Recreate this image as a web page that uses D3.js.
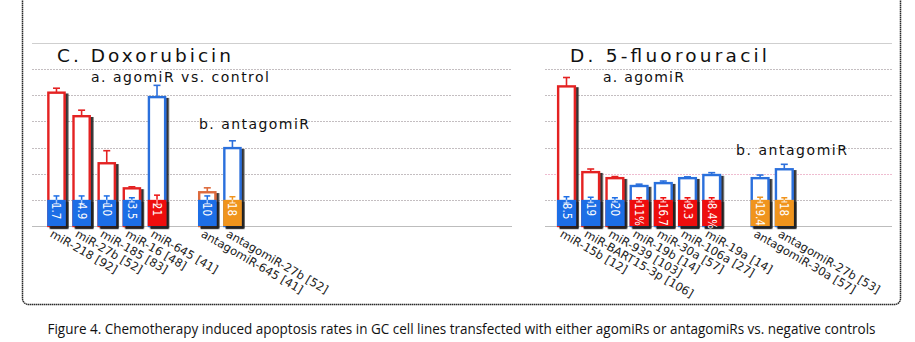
<!DOCTYPE html>
<html>
<head>
<meta charset="utf-8">
<script src="https://cdn.jsdelivr.net/npm/d3@7"></script>
<style>
  html, body { margin: 0; padding: 0; background: #fff; }
  svg { display: block; }
</style>
</head>
<body>
<svg id="chart" width="915" height="342"></svg>
<script>
// ---- Doxorubicin panel ----
const doxCategories = ["miR-218 [92]", "miR-27b [52]", "miR-185 [83]", "miR-16 [48]", "miR-645 [41]",
                       "antagomiR-645 [41]", "antagomiR-27b [52]"];
const doxGroups = ["agomiR", "agomiR", "agomiR", "agomiR", "agomiR", "antagomiR", "antagomiR"];
const doxTreated = [51, 42, 24, 14.4, 49.3, 12.9, 29.8];
const doxTreatedErr = [1.7, 2.3, 4.8, 0.6, 4.5, 1.7, 2.8];
const doxControl = [10, 10, 10, 10, 10, 10, 10];
const doxControlErr = [1.5, 1.5, 1.5, 0.8, 1.8, 1.5, 1.2];
const doxScheme = ["up", "up", "up", "up", "down", "antiUp", "antiDown"];
const doxBarLabels = ["1.7", "4.9", "10", "3.5", "21", "10", "18"];

// ---- 5-fluorouracil panel ----
const fuCategories = ["miR-15b [12]", "miR-BART15-3p [106]", "miR-939 [103]", "miR-19b [14]", "miR-30a [57]",
                      "miR-106a [27]", "miR-19a [14]", "antagomiR-30a [57]", "antagomiR-27b [53]"];
const fuGroups = ["agomiR", "agomiR", "agomiR", "agomiR", "agomiR", "agomiR", "agomiR", "antagomiR", "antagomiR"];
const fuTreated = [53.4, 20.6, 18.3, 15.3, 16.4, 18.3, 19.5, 18.3, 21.7];
const fuTreatedErr = [3.4, 1.2, 0.6, 0.7, 0.8, 0.5, 0.9, 1.2, 1.9];
const fuControl = [10, 10, 10, 10, 10, 10, 10, 10, 10];
const fuControlErr = [1.2, 1.0, 0.8, 0.8, 0.8, 0.8, 0.8, 1.0, 0.8];
const fuScheme = ["up", "up", "up", "down", "down", "down", "down", "antiDown", "antiDown"];
const fuBarLabels = ["8.5", "19", "20", "11%", "16.7", "9.3", "8.4%", "19.4", "18"];

const gridTicks = [0, 10, 20, 30, 40, 50, 60, 70];

const caption = "Figure 4. Chemotherapy induced apoptosis rates in GC cell lines transfected with either agomiRs or antagomiRs vs. negative controls";

// colour schemes: outline of treated bar / fill of control segment
const schemes = {
  up:       { outline: "#e42222", fill: "#1e6ee6" },
  down:     { outline: "#2c6fdc", fill: "#ee1010" },
  antiUp:   { outline: "#dd6a3c", fill: "#1e6ee6" },
  antiDown: { outline: "#2c6fdc", fill: "#f0941e" }
};

const svg = d3.select("#chart");
const comic = "'DejaVu Sans', Verdana, sans-serif";

// drop shadow used by all bars
const defs = svg.append("defs");
const f = defs.append("filter").attr("id", "shadow")
  .attr("x", "-30%").attr("y", "-10%").attr("width", "170%").attr("height", "130%");
f.append("feDropShadow").attr("dx", 2.6).attr("dy", 2).attr("stdDeviation", 0.7)
  .attr("flood-color", "#1a1a1a").attr("flood-opacity", 0.9);

const y = d3.scaleLinear().domain([0, 70]).range([226, 43]);

// outer frame
svg.append("rect")
  .attr("x", 22.5).attr("y", -20).attr("width", 878).attr("height", 324.5)
  .attr("rx", 6).attr("fill", "none")
  .attr("stroke", "#2a2a2a").attr("stroke-width", 1.5).attr("stroke-dasharray", "1.5,0.5");

// gridlines
function grid(x0, x1, pinkTick) {
  svg.append("g").selectAll("line").data(gridTicks.slice(0, -1)).join("line")
    .attr("x1", x0).attr("x2", x1)
    .attr("y1", d => Math.round(y(d)) + 0.5).attr("y2", d => Math.round(y(d)) + 0.5)
    .attr("stroke", d => d === pinkTick ? "#efbcd0" : (d === 0 ? "#bdbdbd" : "#c4bec1"))
    .attr("stroke-width", 1)
    .attr("stroke-dasharray", d => d === 0 ? null : "2,1");
}
grid(32, 512, -1);
grid(545, 892, 20);
svg.append("line").attr("x1", 32).attr("x2", 892)
  .attr("y1", Math.round(y(70)) + 0.5).attr("y2", Math.round(y(70)) + 0.5)
  .attr("stroke", "#cfcfcf").attr("stroke-width", 1.2);

function panel(opts) {
  const { categories, groups, treated, treatedErr, control, controlErr, scheme, labels, range, padIn } = opts;
  // a spacer slot separates agomiR and antagomiR bars
  const keys = [];
  categories.forEach((c, i) => {
    if (i > 0 && groups[i] !== groups[i - 1]) keys.push("__gap__");
    keys.push(c);
  });
  const x = d3.scaleBand().domain(keys).range(range).paddingInner(padIn).paddingOuter(padIn / 2);
  const bw = x.bandwidth();
  const data = categories.map((c, i) => ({
    c, t: treated[i], te: treatedErr[i], k: control[i], ke: controlErr[i],
    s: schemes[scheme[i]], lab: labels[i]
  }));
  const g = svg.append("g");
  const cx = d => x(d.c) + bw / 2;

  // error bars of treated bars (stem below the top is hidden by the bar)
  const te = g.append("g").selectAll("g").data(data).join("g")
    .attr("stroke", d => d.s.outline).attr("stroke-width", 1.6);
  te.append("line").attr("x1", cx).attr("x2", cx)
    .attr("y1", d => y(d.t + d.te)).attr("y2", d => y(d.t - d.te));
  te.append("line").attr("x1", d => cx(d) - 3.5).attr("x2", d => cx(d) + 3.5)
    .attr("y1", d => y(d.t + d.te)).attr("y2", d => y(d.t + d.te));

  // treated bars: open outline
  g.append("g").selectAll("rect").data(data).join("rect")
    .attr("x", d => x(d.c) + 1.2).attr("width", bw - 2.4)
    .attr("y", d => y(d.t)).attr("height", d => y(0) - y(d.t))
    .attr("fill", "#fff").attr("stroke", d => d.s.outline).attr("stroke-width", 2.4)
    .attr("filter", "url(#shadow)");

  // control segment: filled
  g.append("g").selectAll("rect").data(data).join("rect")
    .attr("x", d => x(d.c)).attr("width", bw)
    .attr("y", d => y(d.k)).attr("height", d => y(0) - y(d.k))
    .attr("fill", d => d.s.fill).attr("filter", "url(#shadow)");

  // control error bars
  const ke = g.append("g").selectAll("g").data(data).join("g").attr("stroke-width", 1.5);
  ke.append("line").attr("stroke", d => d.s.fill)
    .attr("x1", cx).attr("x2", cx).attr("y1", d => y(d.k + d.ke)).attr("y2", d => y(d.k));
  ke.append("line").attr("stroke", d => d.s.fill)
    .attr("x1", d => cx(d) - 3).attr("x2", d => cx(d) + 3)
    .attr("y1", d => y(d.k + d.ke)).attr("y2", d => y(d.k + d.ke));
  ke.append("line").attr("stroke", "#fff").attr("stroke-opacity", 0.6)
    .attr("x1", cx).attr("x2", cx).attr("y1", d => y(d.k)).attr("y2", d => y(d.k - d.ke));
  ke.append("line").attr("stroke", "#fff").attr("stroke-opacity", 0.6)
    .attr("x1", d => cx(d) - 3).attr("x2", d => cx(d) + 3)
    .attr("y1", d => y(d.k - d.ke)).attr("y2", d => y(d.k - d.ke));

  // values written inside the filled segment
  g.append("g").selectAll("text").data(data).join("text")
    .attr("transform", d => `translate(${cx(d)},${y(d.k) + 3}) rotate(90)`)
    .attr("dominant-baseline", "central")
    .attr("font-family", "'Liberation Sans Narrow', 'DejaVu Sans Condensed', 'Liberation Sans', sans-serif")
    .attr("font-size", 11.5).attr("fill", "#fff")
    .text(d => d.lab);

  // slanted category labels
  g.append("g").selectAll("text").data(data).join("text")
    .attr("transform", d => `translate(${cx(d) - 3},${y(0) + 3}) rotate(30)`)
    .attr("dy", "0.72em")
    .attr("font-family", comic).attr("font-size", 11.5).attr("fill", "#222")
    .text(d => d.c);
}

panel({ categories: doxCategories, groups: doxGroups, treated: doxTreated, treatedErr: doxTreatedErr,
        control: doxControl, controlErr: doxControlErr, scheme: doxScheme, labels: doxBarLabels,
        range: [43.9, 245.0], padIn: 0.26 });
panel({ categories: fuCategories, groups: fuGroups, treated: fuTreated, treatedErr: fuTreatedErr,
        control: fuControl, controlErr: fuControlErr, scheme: fuScheme, labels: fuBarLabels,
        range: [554.4, 796.4], padIn: 0.21 });

// titles
function label(txt, x, yb, size, len) {
  svg.append("text").attr("x", x).attr("y", yb)
    .attr("font-family", comic).attr("font-size", size).attr("fill", "#111")
    .attr("textLength", len).attr("lengthAdjust", "spacing")
    .text(txt);
}
label("C. Doxorubicin", 57, 62, 18.5, 174);
label("D. 5-fluorouracil", 570, 62, 18.5, 197);
label("a. agomiR vs. control", 91, 81.5, 14, 178);
label("b. antagomiR", 199, 129, 14, 110);
label("a. agomiR", 603, 81.5, 14, 81);
label("b. antagomiR", 736, 155, 14, 111);

// figure caption
svg.append("text").attr("x", 47.5).attr("y", 333.5)
  .attr("font-family", "'Open Sans', 'Noto Sans', sans-serif").attr("font-size", 14).attr("fill", "#111")
  .attr("textLength", 828).attr("lengthAdjust", "spacingAndGlyphs")
  .text(caption);
</script>
</body>
</html>
